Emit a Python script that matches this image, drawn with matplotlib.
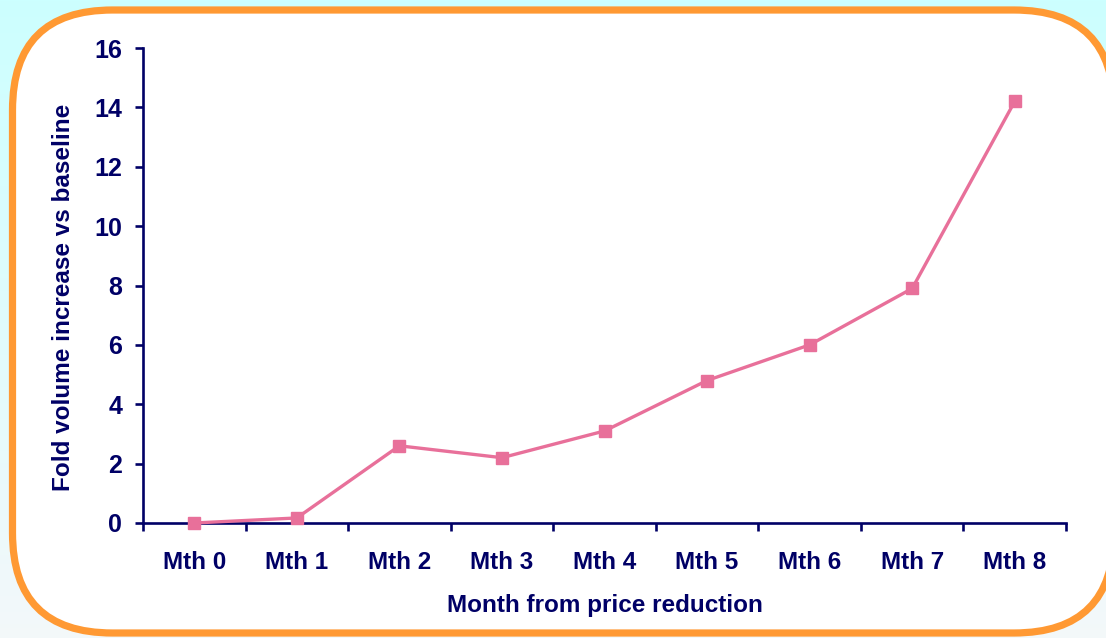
import numpy as np
import matplotlib
matplotlib.use("Agg")
import matplotlib.pyplot as plt
from matplotlib.patches import FancyBboxPatch
from matplotlib.ticker import FixedLocator, NullFormatter

# data
months = ["Mth 0", "Mth 1", "Mth 2", "Mth 3", "Mth 4", "Mth 5", "Mth 6", "Mth 7", "Mth 8"]
fold_increase = [0.0, 0.17, 2.6, 2.2, 3.1, 4.8, 6.0, 7.9, 14.2]
y_ticks = [0, 2, 4, 6, 8, 10, 12, 14, 16]

navy = "#000066"
pink = "#E8709A"
orange = "#FF9933"

plt.rcParams["font.family"] = ["Liberation Sans", "DejaVu Sans"]
plt.rcParams["font.weight"] = "bold"

W, H = 1106, 638
fig = plt.figure(figsize=(W / 100, H / 100), dpi=100)

# background: cyan fading to near white, with rounded framed panel
bg = fig.add_axes([0, 0, 1, 1], zorder=0)
grad = np.linspace(0, 1, 256).reshape(-1, 1)
top = np.array([0.80, 1.0, 1.0])
bottom = np.array([0.955, 0.973, 0.98])
img = top + (bottom - top) * grad[..., None]
bg.imshow(img, extent=[0, W, 0, H], aspect="auto", origin="upper")
panel = FancyBboxPatch((12.5, 5), 1114 - 12.5, 628 - 5,
                       boxstyle="round,pad=0,rounding_size=100",
                       facecolor="white", edgecolor=orange, linewidth=5.2)
bg.add_patch(panel)
bg.set_xlim(0, W)
bg.set_ylim(0, H)
bg.axis("off")

ax = fig.add_axes([143 / W, 1 - 523 / H, (1066 - 143) / W, (523 - 48) / H], zorder=1)
ax.patch.set_visible(False)

x = np.arange(len(months))
ax.plot(x, fold_increase, color=pink, linewidth=2.4, marker="s",
        markersize=8.5, clip_on=False, zorder=3)

ax.set_xlim(-0.5, len(months) - 0.5)
ax.set_ylim(0, 16)
ax.set_yticks(y_ticks)
ax.set_xticks(x)
ax.set_xticklabels(months)
ax.xaxis.set_minor_locator(FixedLocator(np.arange(-0.5, len(months), 1.0)))
ax.xaxis.set_minor_formatter(NullFormatter())

for side in ["top", "right"]:
    ax.spines[side].set_visible(False)
for side in ["left", "bottom"]:
    ax.spines[side].set_color(navy)
    ax.spines[side].set_linewidth(1.9)

ax.tick_params(axis="y", direction="out", length=6, width=1.9, color=navy,
               labelcolor=navy, labelsize=18, pad=9)
ax.tick_params(axis="x", which="major", length=0, labelcolor=navy,
               labelsize=17.5, pad=20.5)
ax.tick_params(axis="x", which="minor", direction="out", length=6,
               width=1.9, color=navy)

ax.set_xlabel("Month from price reduction", color=navy, fontsize=17.5,
              fontweight="bold", labelpad=14)
ax.set_ylabel("Fold volume increase vs baseline", color=navy, fontsize=17.5,
              fontweight="bold")
ax.yaxis.set_label_coords(-0.074, 0.475)

fig.savefig("out.png", dpi=100)
